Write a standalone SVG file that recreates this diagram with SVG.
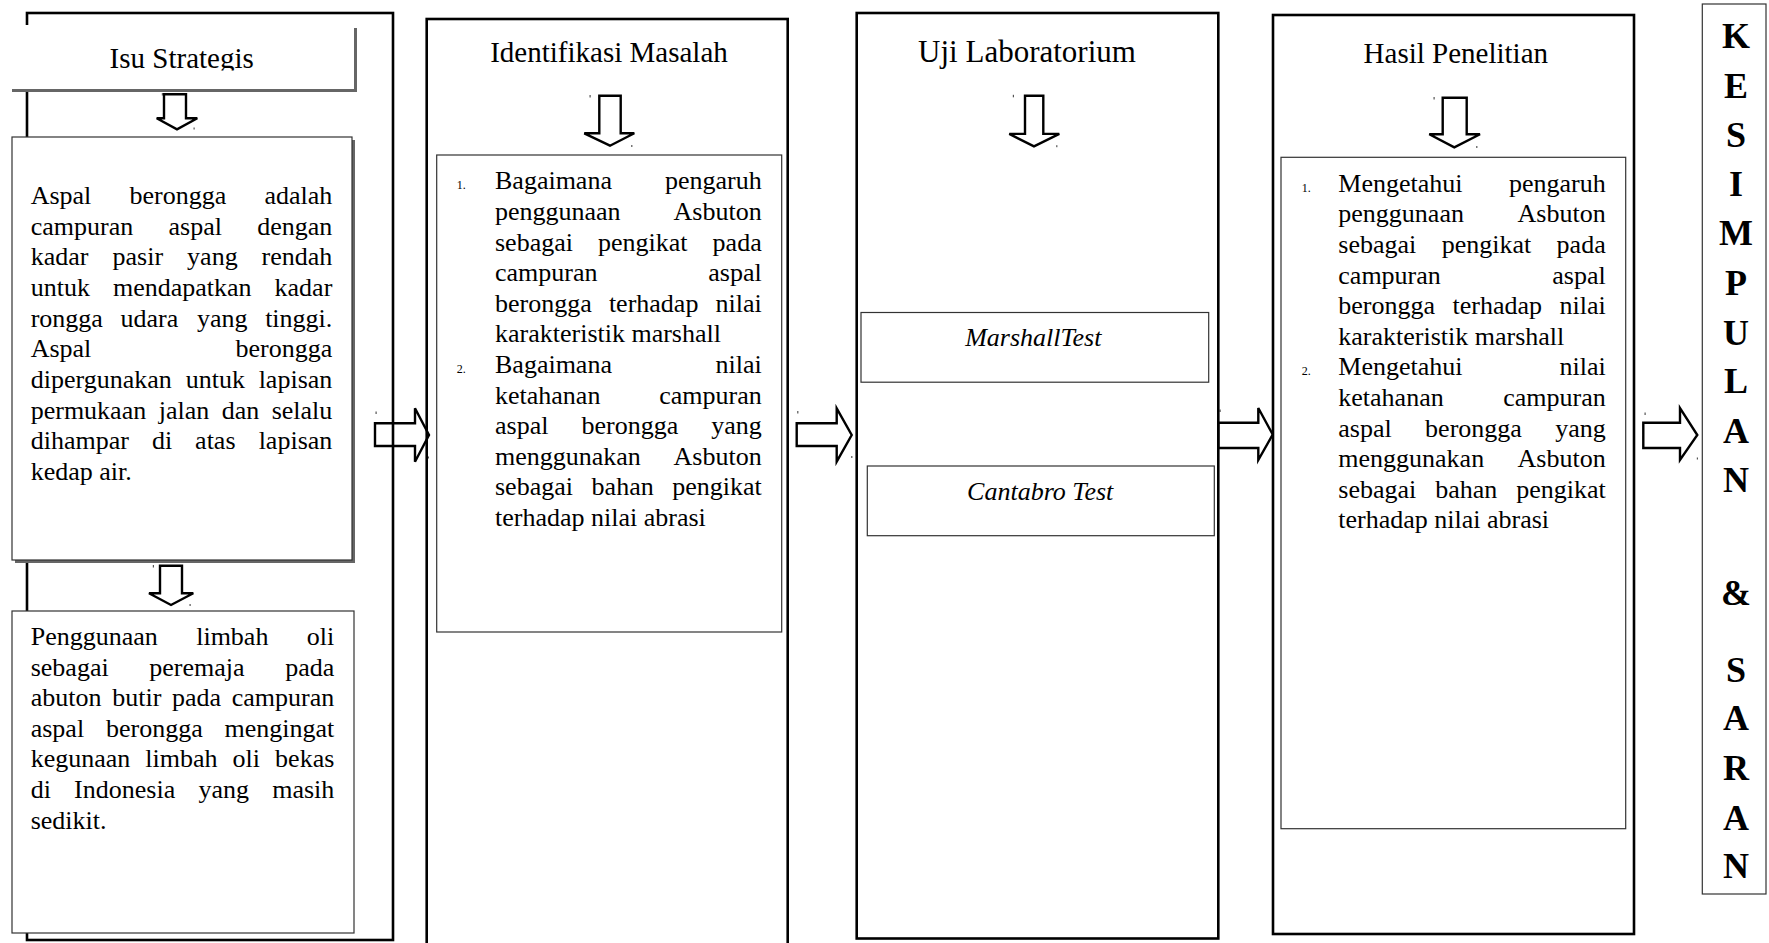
<svg xmlns="http://www.w3.org/2000/svg" width="1769" height="943" viewBox="0 0 1769 943">
<style>
text{font-family:"Liberation Serif","Times New Roman",serif;font-size:26px;fill:#000}
.h{font-size:29px;text-anchor:middle}
.e{text-anchor:end}
.n{font-size:12px}
.i{font-style:italic;text-anchor:middle}
.k{font-weight:bold;font-size:36px;text-anchor:middle}
.outer{fill:none;stroke:#000;stroke-width:2.6}
.box{fill:#fff;stroke:#333;stroke-width:1.2}
.shadow{fill:#666}
.arrow{fill:#fff;stroke:#000;stroke-width:2.4;stroke-linejoin:miter}
.dot{fill:#555}
</style>
<defs>
<clipPath id="clipIsu"><rect x="12" y="25" width="342" height="45.5"/></clipPath>
</defs>
<rect width="1769" height="943" fill="#fff"/>

<g id="connectors">
  <path class="arrow" d="M164,94.3 H186 V118.3 H197.3 L177,129.3 L156.7,118.3 H164 Z"/>
  <path class="arrow" d="M160,565.7 H182 V593.3 H193.3 L171,605 L149,593.3 H160 Z"/>
  <path class="arrow" d="M599.3,95.7 H620.7 V133.3 H634.3 L610,145.7 L584.3,133.3 H599.3 Z"/>
  <path class="arrow" d="M1025,95.7 H1043.3 V133.9 H1059.3 L1034,146.4 L1009.3,133.9 H1025 Z"/>
  <path class="arrow" d="M1442.7,97.7 H1466.7 V134.3 H1480 L1454.3,147.3 L1429.3,134.3 H1442.7 Z"/>
  <path class="arrow" d="M375,423.3 H415 V408.3 L429,435 L415,461.7 V446 H375 Z"/>
  <path class="arrow" d="M796.7,423.3 H836.7 V408.3 L851.7,435 L836.7,461.7 V446 H796.7 Z"/>
  <path class="arrow" d="M1218.3,422.7 H1258.3 V408 L1272.7,434.5 L1258.3,460 V448 H1218.3 Z"/>
  <path class="arrow" d="M1643.3,422.7 H1680 V408 L1697.3,435 L1680,460 V448 H1643.3 Z"/>
  <rect class="dot" x="161.8" y="93" width="1.2" height="2.5"/>
  <rect class="dot" x="193.5" y="127.5" width="1.2" height="2"/>
  <rect class="dot" x="152.8" y="565" width="1.2" height="2.5"/>
  <rect class="dot" x="189.5" y="604" width="1.2" height="2"/>
  <rect class="dot" x="589.5" y="95" width="1.2" height="2.5"/>
  <rect class="dot" x="631.2" y="145" width="1.2" height="2"/>
  <rect class="dot" x="1012.8" y="94.8" width="1.2" height="2.5"/>
  <rect class="dot" x="1056.2" y="145.2" width="1.2" height="2"/>
  <rect class="dot" x="1433.5" y="97" width="1.2" height="2.5"/>
  <rect class="dot" x="1476.2" y="146" width="1.2" height="2"/>
  <rect class="dot" x="375.5" y="411.5" width="1.2" height="2.5"/>
  <rect class="dot" x="427.8" y="456.5" width="1.2" height="2"/>
  <rect class="dot" x="797.2" y="411" width="1.2" height="2.5"/>
  <rect class="dot" x="851.2" y="456" width="1.2" height="2"/>
  <rect class="dot" x="1219.5" y="409.5" width="1.2" height="2.5"/>
  <rect class="dot" x="1272.8" y="459" width="1.2" height="2"/>
  <rect class="dot" x="1644.5" y="412.5" width="1.2" height="2.5"/>
  <rect class="dot" x="1696.8" y="457.5" width="1.2" height="2"/>
</g>

<g id="col-isu">
  <rect class="outer" x="27" y="13" width="366" height="927"/>
  <g id="isu-strategis">
    <rect x="12" y="25" width="342" height="64" fill="#fff"/>
    <rect class="shadow" x="354" y="28" width="3" height="64"/>
    <rect class="shadow" x="12" y="89" width="345" height="3"/>
    <text class="h" x="181.7" y="68.3" clip-path="url(#clipIsu)">Isu Strategis</text>
  </g>
  <g id="isu-box1">
    <rect class="shadow" x="15" y="140" width="340" height="423"/>
    <rect class="box" x="12" y="137" width="340" height="423"/>
    <text y="204"><tspan x="30.7">Aspal</tspan><tspan x="129.5">berongga</tspan><tspan class="e" x="332.3">adalah</tspan></text>
    <text y="234.7"><tspan x="30.7">campuran</tspan><tspan x="168.5">aspal</tspan><tspan class="e" x="332.3">dengan</tspan></text>
    <text y="265.3"><tspan x="30.7">kadar</tspan><tspan x="112.5">pasir</tspan><tspan x="187.1">yang</tspan><tspan class="e" x="332.3">rendah</tspan></text>
    <text y="296"><tspan x="30.7">untuk</tspan><tspan x="113">mendapatkan</tspan><tspan class="e" x="332.3">kadar</tspan></text>
    <text y="326.7"><tspan x="30.7">rongga</tspan><tspan x="120.5">udara</tspan><tspan x="196.9">yang</tspan><tspan class="e" x="332.3">tinggi.</tspan></text>
    <text y="357.3"><tspan x="30.7">Aspal</tspan><tspan class="e" x="332.3">berongga</tspan></text>
    <text y="388"><tspan x="30.7">dipergunakan</tspan><tspan x="185.8">untuk</tspan><tspan class="e" x="332.3">lapisan</tspan></text>
    <text y="418.7"><tspan x="30.7">permukaan</tspan><tspan x="158.7">jalan</tspan><tspan x="221.7">dan</tspan><tspan class="e" x="332.3">selalu</tspan></text>
    <text y="449.3"><tspan x="30.7">dihampar</tspan><tspan x="151.9">di</tspan><tspan x="195.1">atas</tspan><tspan class="e" x="332.3">lapisan</tspan></text>
    <text y="480" x="30.7">kedap air.</text>
  </g>
  <g id="isu-box2">
    <rect class="box" x="12" y="611" width="342" height="322"/>
    <text y="645"><tspan x="30.7">Penggunaan</tspan><tspan x="196.2">limbah</tspan><tspan class="e" x="334.3">oli</tspan></text>
    <text y="675.6"><tspan x="30.7">sebagai</tspan><tspan x="149.3">peremaja</tspan><tspan class="e" x="334.3">pada</tspan></text>
    <text y="706.2"><tspan x="30.7">abuton</tspan><tspan x="112.2">butir</tspan><tspan x="172">pada</tspan><tspan class="e" x="334.3">campuran</tspan></text>
    <text y="736.8"><tspan x="30.7">aspal</tspan><tspan x="106">berongga</tspan><tspan class="e" x="334.3">mengingat</tspan></text>
    <text y="767.4"><tspan x="30.7">kegunaan</tspan><tspan x="145.3">limbah</tspan><tspan x="232.5">oli</tspan><tspan class="e" x="334.3">bekas</tspan></text>
    <text y="798"><tspan x="30.7">di</tspan><tspan x="74.1">Indonesia</tspan><tspan x="198.4">yang</tspan><tspan class="e" x="334.3">masih</tspan></text>
    <text y="828.6" x="30.7">sedikit.</text>
  </g>
</g>

<g id="col-identifikasi">
  <rect class="outer" x="426.7" y="19" width="361" height="935"/>
  <text class="h" x="609" y="61.7">Identifikasi Masalah</text>
  <g id="identifikasi-box">
    <rect class="box" x="436.7" y="155" width="345" height="477"/>
    <text y="189.3"><tspan class="n" x="456.7">1.</tspan><tspan x="495">Bagaimana</tspan><tspan class="e" x="761.7">pengaruh</tspan></text>
    <text y="219.9"><tspan x="495">penggunaan</tspan><tspan class="e" x="761.7">Asbuton</tspan></text>
    <text y="250.5"><tspan x="495">sebagai</tspan><tspan x="598">pengikat</tspan><tspan class="e" x="761.7">pada</tspan></text>
    <text y="281.1"><tspan x="495">campuran</tspan><tspan class="e" x="761.7">aspal</tspan></text>
    <text y="311.7"><tspan x="495">berongga</tspan><tspan x="608.9">terhadap</tspan><tspan class="e" x="761.7">nilai</tspan></text>
    <text y="342.3" x="495">karakteristik marshall</text>
    <text y="372.9"><tspan class="n" x="456.7">2.</tspan><tspan x="495">Bagaimana</tspan><tspan class="e" x="761.7">nilai</tspan></text>
    <text y="403.5"><tspan x="495">ketahanan</tspan><tspan class="e" x="761.7">campuran</tspan></text>
    <text y="434.1"><tspan x="495">aspal</tspan><tspan x="581.5">berongga</tspan><tspan class="e" x="761.7">yang</tspan></text>
    <text y="464.7"><tspan x="495">menggunakan</tspan><tspan class="e" x="761.7">Asbuton</tspan></text>
    <text y="495.3"><tspan x="495">sebagai</tspan><tspan x="591.6">bahan</tspan><tspan class="e" x="761.7">pengikat</tspan></text>
    <text y="525.9" x="495">terhadap nilai abrasi</text>
  </g>
</g>

<g id="col-uji">
  <rect class="outer" x="856.7" y="13" width="361.6" height="925.5"/>
  <text class="h" x="1027" y="61.8" style="font-size:31px">Uji Laboratorium</text>
  <g id="marshall-test">
    <rect class="box" x="861" y="312.5" width="347.7" height="69.7"/>
    <text class="i" x="1033.3" y="346.4">MarshallTest</text>
  </g>
  <g id="cantabro-test">
    <rect class="box" x="867.3" y="466" width="347" height="69.7"/>
    <text class="i" x="1040.2" y="500">Cantabro Test</text>
  </g>
</g>

<g id="col-hasil">
  <rect class="outer" x="1273" y="15" width="361" height="919"/>
  <text class="h" x="1455.8" y="63.3">Hasil Penelitian</text>
  <g id="hasil-box">
    <rect class="box" x="1281" y="157.3" width="344.7" height="671.4"/>
    <text y="191.7"><tspan class="n" x="1301.7">1.</tspan><tspan x="1338.3">Mengetahui</tspan><tspan class="e" x="1605.7">pengaruh</tspan></text>
    <text y="222.3"><tspan x="1338.3">penggunaan</tspan><tspan class="e" x="1605.7">Asbuton</tspan></text>
    <text y="252.9"><tspan x="1338.3">sebagai</tspan><tspan x="1441.7">pengikat</tspan><tspan class="e" x="1605.7">pada</tspan></text>
    <text y="283.5"><tspan x="1338.3">campuran</tspan><tspan class="e" x="1605.7">aspal</tspan></text>
    <text y="314.1"><tspan x="1338.3">berongga</tspan><tspan x="1452.5">terhadap</tspan><tspan class="e" x="1605.7">nilai</tspan></text>
    <text y="344.7" x="1338.3">karakteristik marshall</text>
    <text y="375.3"><tspan class="n" x="1301.7">2.</tspan><tspan x="1338.3">Mengetahui</tspan><tspan class="e" x="1605.7">nilai</tspan></text>
    <text y="405.9"><tspan x="1338.3">ketahanan</tspan><tspan class="e" x="1605.7">campuran</tspan></text>
    <text y="436.5"><tspan x="1338.3">aspal</tspan><tspan x="1425.1">berongga</tspan><tspan class="e" x="1605.7">yang</tspan></text>
    <text y="467.1"><tspan x="1338.3">menggunakan</tspan><tspan class="e" x="1605.7">Asbuton</tspan></text>
    <text y="497.7"><tspan x="1338.3">sebagai</tspan><tspan x="1435.2">bahan</tspan><tspan class="e" x="1605.7">pengikat</tspan></text>
    <text y="528.3" x="1338.3">terhadap nilai abrasi</text>
  </g>
</g>

<g id="kesimpulan-saran">
  <rect class="box" x="1702.3" y="4" width="63.7" height="890" stroke-width="1.5"/>
  <text class="k" x="1736" y="48.3">K</text>
  <text class="k" x="1736" y="98.3">E</text>
  <text class="k" x="1736" y="146.7">S</text>
  <text class="k" x="1736" y="196">I</text>
  <text class="k" x="1736" y="245">M</text>
  <text class="k" x="1736" y="295">P</text>
  <text class="k" x="1736" y="345">U</text>
  <text class="k" x="1736" y="393.3">L</text>
  <text class="k" x="1736" y="442.7">A</text>
  <text class="k" x="1736" y="491.7">N</text>
  <text class="k" x="1736" y="605">&amp;</text>
  <text class="k" x="1736" y="681.7">S</text>
  <text class="k" x="1736" y="730">A</text>
  <text class="k" x="1736" y="780">R</text>
  <text class="k" x="1736" y="830">A</text>
  <text class="k" x="1736" y="878.3">N</text>
</g>
</svg>
